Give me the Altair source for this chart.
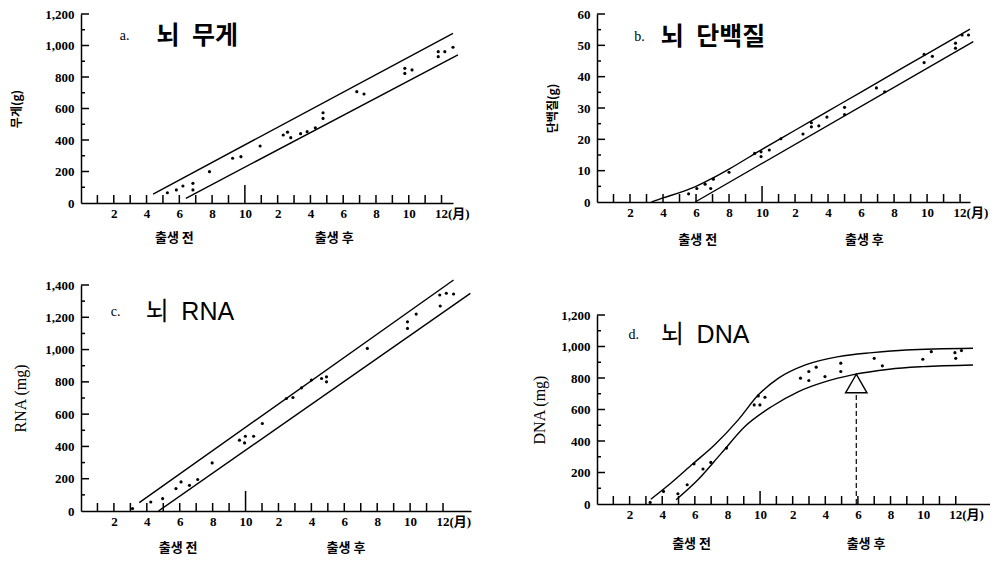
import altair as alt
import pandas as pd

MONTH_TICKS = list(range(1, 23))
X_LABEL_VALUES = list(range(2, 23, 2))
SUB_LABELS = ["출생 전", "출생 후"]
SP = "\u2002"

# ---- a. brain weight (g)
A_PT_M = [5.27, 5.82, 6.22, 6.83, 6.83, 7.84, 9.25, 9.76, 10.93, 12.34, 12.6, 12.8, 13.4, 13.8, 14.3,
          14.77, 14.77, 16.83, 17.27, 19.76, 19.76, 20.2, 21.8, 21.8, 22.2, 22.7]
A_PT_V = [65, 83, 108, 125, 83, 199, 284, 294, 362, 432, 450, 415, 440, 453, 477,
          573, 537, 707, 692, 855, 823, 845, 961, 929, 961, 989]
A_UP_M = [4.4, 22.7]
A_UP_V = [57, 1077]
A_LO_M = [6.4, 23.0]
A_LO_V = [30, 940]

# ---- b. brain protein (g)
B_PT_M = [5.55, 6.05, 6.55, 6.89, 7.05, 8.0, 9.55, 9.94, 9.94, 10.44, 11.14, 12.48, 12.99, 12.99, 13.44,
          13.93, 15.0, 15.0, 16.93, 17.43, 19.82, 19.82, 20.32, 21.72, 21.72, 22.12, 22.51]
B_PT_V = [2.6, 4.3, 5.7, 4.3, 7.3, 9.5, 15.5, 16.0, 14.5, 16.6, 20.2, 21.7, 25.3, 24.0, 24.3,
          27.1, 30.2, 27.9, 36.4, 35.2, 47.1, 44.5, 46.5, 50.7, 49.1, 53.3, 53.3]
B_UP_M = [3.3, 4, 5, 6, 7, 8, 10, 12, 14, 16, 18, 20, 22.6]
B_UP_V = [0, 1.3, 3.0, 5.0, 7.6, 10.5, 16.8, 22.9, 29.0, 35.1, 41.2, 47.3, 55.2]
B_LO_M = [5.95, 22.8]
B_LO_V = [0, 51.2]

# ---- c. brain RNA (mg)
C_PT_M = [3.13, 4.24, 4.96, 5.77, 6.08, 6.59, 7.09, 7.97, 9.63, 9.99, 9.94, 10.49, 11.02, 12.48, 12.88,
          13.40, 14.0, 14.62, 14.92, 14.92, 17.4, 19.84, 19.84, 20.37, 21.8, 21.83, 22.2, 22.64]
C_PT_V = [15, 56, 77, 139, 180, 159, 195, 298, 439, 463, 422, 463, 542, 697, 703,
          763, 811, 821, 831, 800, 1007, 1172, 1131, 1220, 1338, 1270, 1349, 1344]
C_UP_M = [3.54, 22.64]
C_UP_V = [52, 1431]
C_LO_M = [4.71, 23.66]
C_LO_V = [0, 1348]

# ---- d. brain DNA (mg)
D_PT_M = [3.26, 4.08, 4.96, 5.53, 5.95, 6.5, 6.98, 7.94, 9.89, 10.3, 9.64, 9.99, 12.48, 12.99, 12.99,
          13.44, 13.98, 14.95, 14.95, 17.0, 17.5, 19.98, 20.5, 21.95, 22.0, 22.35]
D_PT_V = [10, 80, 65, 122, 255, 222, 264, 355, 686, 678, 629, 629, 799, 841, 784,
          869, 809, 894, 841, 925, 877, 919, 967, 961, 925, 974]
D_UP_M = [3.3, 4.54, 5.88, 7.22, 8.66, 9.9, 11.13, 12.78, 14.83, 16.89, 18.95, 23.06]
D_UP_V = [30, 133, 255, 376, 534, 693, 799, 883, 936, 961, 978, 989]
D_LO_M = [4.85, 6.19, 7.63, 9.07, 10.72, 12.36, 14.01, 15.65, 17.92, 19.98, 23.06]
D_LO_V = [27, 154, 323, 492, 619, 714, 777, 820, 856, 872, 883]
D_ARROW_M = 15.9
D_ARROW_BASE = 704
D_ARROW_MID = 765

KFONT = "'Noto Sans CJK KR'"
SERIF = "'Liberation Serif', 'Noto Sans CJK KR'"
SANSK = "'Liberation Sans', 'Noto Sans CJK KR'"

X_LABEL_EXPR = ("datum.value <= 10 ? '' + datum.value : "
                "(datum.value == 22 ? '12(月)' : '' + (datum.value - 10))")


def panel(pm, pv, um, uv, lm, lv, xmax, ymax, ystep, w, h,
          letter, letter_mv, title, title_font, title_weight,
          ytitle, ytitle_font, ytitle_size, ytitle_weight, ytitle_dx,
          sub_m, sub_dy, tall, interp="linear", arrow=False):
    x_axis = alt.Axis(values=X_LABEL_VALUES, labelExpr=X_LABEL_EXPR, ticks=False, grid=False,
                      domainColor="black", domainWidth=1.5, labelFont=SERIF, labelFontWeight="bold",
                      labelFontSize=13, labelColor="black", labelPadding=4, labelFlush=False,
                      labelOverlap=False, title=None,
                      labelAlign={"condition": {"test": "datum.value == 22", "value": "left"}, "value": "center"},
                      labelOffset={"condition": {"test": "datum.value == 22", "value": -7}, "value": 0})
    y_axis = alt.Axis(values=list(range(0, ymax + 1, ystep)), format=",d", ticks=False, grid=False,
                      domainColor="black", domainWidth=1.5, labelFont=SERIF, labelFontWeight="bold",
                      labelFontSize=13, labelColor="black", labelPadding=7, labelFlush=False,
                      title=ytitle, titleX=ytitle_dx, titleY=h / 2, titleAngle=270, titleAlign="center",
                      titleBaseline="middle", titleFont=ytitle_font, titleFontSize=ytitle_size,
                      titleFontWeight=ytitle_weight, titleColor="black")
    X = alt.X("m:Q", scale=alt.Scale(domain=[0, xmax], nice=False, zero=False), axis=x_axis)
    Y = alt.Y("v:Q", scale=alt.Scale(domain=[0, ymax], nice=False), axis=y_axis)

    # pixel lengths of the inward ticks, expressed in data units of each scale
    px_y = ymax / h
    px_x = xmax / w

    pts = alt.Chart(pd.DataFrame({"m": pm, "v": pv})).mark_circle(
        size=10, color="black", opacity=1).encode(x=X, y=Y)

    def line(ms, vs):
        df = pd.DataFrame({"m": ms, "v": vs, "i": list(range(len(ms)))})
        return alt.Chart(df).mark_line(color="black", strokeWidth=1.4, interpolate=interp).encode(
            x=X, y=Y, order="i:O")

    xt_df = pd.DataFrame({"m": MONTH_TICKS, "v": [0.0] * len(MONTH_TICKS),
                          "v2": [(tall if m == 10 else 8) * px_y for m in MONTH_TICKS]})
    xt = alt.Chart(xt_df).mark_rule(color="black", strokeWidth=1.5, opacity=1).encode(
        x=X, y=Y, y2="v2:Q")

    yvals = list(range(ystep // 2, ymax + 1, ystep // 2))
    yt_df = pd.DataFrame({"v": yvals, "m": [0.0] * len(yvals),
                          "m2": [(8 if v % ystep == 0 else 4) * px_x for v in yvals]})
    yt = alt.Chart(yt_df).mark_rule(color="black", strokeWidth=1.5, opacity=1).encode(
        y=Y, x=X, x2="m2:Q")

    lt = alt.Chart(pd.DataFrame({"m": [letter_mv[0]], "v": [letter_mv[2]], "t": [letter]})).mark_text(
        align="left", baseline="middle", font=SERIF, fontSize=14, color="black").encode(x=X, y=Y, text="t:N")
    tt = alt.Chart(pd.DataFrame({"m": [letter_mv[1]], "v": [letter_mv[2]], "t": [title]})).mark_text(
        align="left", baseline="middle", font=title_font, fontWeight=title_weight, fontSize=25,
        color="black").encode(x=X, y=Y, text="t:N")
    sub = alt.Chart(pd.DataFrame({"m": sub_m, "t": SUB_LABELS})).mark_text(
        align="center", baseline="middle", font=KFONT, fontWeight="bold", fontSize=13,
        color="black").encode(x=X, y=alt.value(h + sub_dy), text="t:N")

    layers = [pts, line(um, uv), line(lm, lv), xt, yt, lt, tt, sub]
    if arrow:
        dash = alt.Chart(pd.DataFrame({"m": [D_ARROW_M], "v": [0], "v2": [D_ARROW_BASE]})).mark_rule(
            color="black", strokeWidth=1.2, strokeDash=[5, 3]).encode(x=X, y=Y, y2="v2:Q")
        tri = alt.Chart(pd.DataFrame({"m": [D_ARROW_M], "v": [D_ARROW_MID]})).mark_point(
            shape="triangle-up", size=460, filled=True, fill="white", stroke="black",
            strokeWidth=1.4, opacity=1).encode(x=X, y=Y)
        layers += [dash, tri]
    return alt.layer(*layers).properties(width=w, height=h)


a = panel(A_PT_M, A_PT_V, A_UP_M, A_UP_V, A_LO_M, A_LO_V, 22.7, 1200, 200, 372, 189,
          "a.", (2.36, 4.6, 1060), "뇌" + SP + "무게", KFONT, "bold",
          "무게(g)", KFONT, 12, "bold", -65, [5.7, 15.45], 35, 18)
b = panel(B_PT_M, B_PT_V, B_UP_M, B_UP_V, B_LO_M, B_LO_V, 22.6, 60, 10, 373, 188,
          "b.", (2.26, 3.86, 52.6), "뇌" + SP + "단백질", KFONT, "bold",
          "단백질(g)", KFONT, 12, "bold", -45, [6.1, 16.2], 38, 16, interp="monotone")
c = panel(C_PT_M, C_PT_V, C_UP_M, C_UP_V, C_LO_M, C_LO_V, 23.7, 1400, 200, 390, 226,
          "c.", (1.81, 3.94, 1232), "뇌" + SP + "RNA", SANSK, "normal",
          "RNA (mg)", SERIF, 16, "normal", -61, [5.9, 16.1], 37, 20)
d = panel(D_PT_M, D_PT_V, D_UP_M, D_UP_V, D_LO_M, D_LO_V, 24.1, 1200, 200, 393, 189,
          "d.", (1.93, 3.93, 1073), "뇌" + SP + "DNA", SANSK, "normal",
          "DNA (mg)", SERIF, 16, "normal", -58, [5.8, 16.5], 40, 13, interp="monotone", arrow=True)

left = alt.vconcat(a, c, spacing=82, bounds="flush")
right = alt.vconcat(b, d, spacing=113, bounds="flush")
chart = alt.hconcat(left, right, spacing=57, bounds="full").properties(
    padding={"left": 2, "top": 0, "right": 0, "bottom": 0}, background="white"
).configure_view(stroke=None)

chart.save("out.html", embed_options={"renderer": "svg", "actions": False})
